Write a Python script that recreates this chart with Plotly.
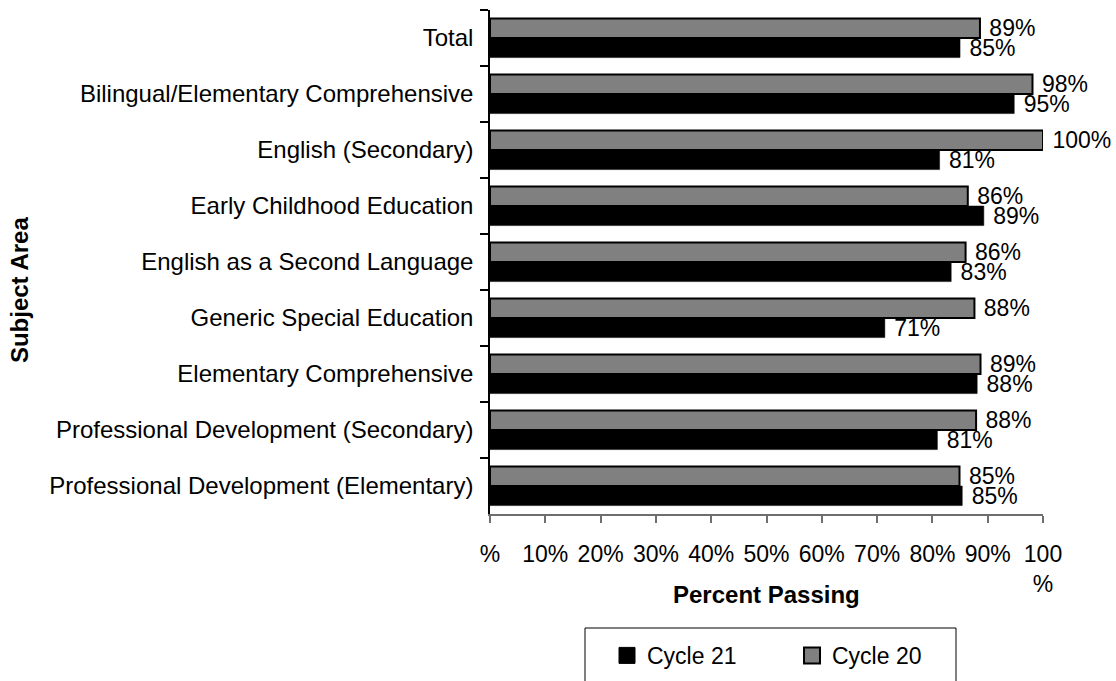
import plotly.graph_objects as go

categories = [
    "Total",
    "Bilingual/Elementary Comprehensive",
    "English (Secondary)",
    "Early Childhood Education",
    "English as a Second Language",
    "Generic Special Education",
    "Elementary Comprehensive",
    "Professional Development (Secondary)",
    "Professional Development (Elementary)",
]
cycle20 = [88.6, 98.1, 100.0, 86.4, 86.0, 87.6, 88.7, 87.9, 84.9]
cycle21 = [85.0, 94.8, 81.3, 89.3, 83.4, 71.4, 88.1, 80.9, 85.4]
labels20 = [89, 98, 100, 86, 86, 88, 89, 88, 85]
labels21 = [85, 95, 81, 89, 83, 71, 88, 81, 85]
xtick_vals = [0, 10, 20, 30, 40, 50, 60, 70, 80, 90, 100]
xtick_text = ["%", "10%", "20%", "30%", "40%", "50%", "60%", "70%", "80%", "90%", "100<br>%"]

FONT = "Liberation Sans, Arial, sans-serif"
FS = 23
GRAY = "#808080"
NB = "\u00a0"

fig = go.Figure()
fig.add_trace(go.Bar(
    name="Cycle 20", y=categories, x=cycle20, orientation="h",
    marker=dict(color=GRAY, line=dict(color="#000000", width=2)),
    text=[f"{NB}{v}%" for v in labels20], textposition="outside",
    textfont=dict(family=FONT, size=FS, color="#000000"),
    cliponaxis=False, constraintext="none", showlegend=False,
))
fig.add_trace(go.Bar(
    name="Cycle 21", y=categories, x=cycle21, orientation="h",
    marker=dict(color="#000000", line=dict(color="#000000", width=0.5)),
    text=[f"{NB}{v}%" for v in labels21], textposition="outside",
    textfont=dict(family=FONT, size=FS, color="#000000"),
    cliponaxis=False, constraintext="none", showlegend=False,
))
# legend entries (same styles as the bars, with larger square symbols)
fig.add_trace(go.Scatter(
    name="Cycle 21", x=[None], y=[None], mode="markers",
    marker=dict(symbol="square", size=16, color="#000000",
                line=dict(color="#000000", width=1)),
    showlegend=True, legendrank=1,
))
fig.add_trace(go.Scatter(
    name="Cycle 20", x=[None], y=[None], mode="markers",
    marker=dict(symbol="square", size=16, color=GRAY,
                line=dict(color="#000000", width=2)),
    showlegend=True, legendrank=2,
))

fig.update_layout(
    width=1116, height=681,
    margin=dict(l=490, r=73, t=10, b=167, autoexpand=False),
    paper_bgcolor="white", plot_bgcolor="white",
    font=dict(family=FONT, size=FS, color="#000000"),
    barmode="group", bargap=0.3, bargroupgap=0.0,
    showlegend=True,
    legend=dict(
        orientation="h",
        x=0.2116, xanchor="left", y=-0.238, yanchor="top",
        borderwidth=0, bgcolor="rgba(0,0,0,0)",
        font=dict(family=FONT, size=FS, color="#000000"),
        entrywidth=140, entrywidthmode="pixels",
    ),
    xaxis=dict(
        range=[0, 100], tickvals=xtick_vals, ticktext=xtick_text,
        showline=True, linecolor="#6e6e6e", linewidth=1.5,
        ticks="outside", ticklen=7, tickcolor="#6e6e6e", tickwidth=1.5,
        showgrid=False, zeroline=False, ticklabelstandoff=12,
        tickfont=dict(family=FONT, size=FS, color="#000000"),
    ),
    yaxis=dict(
        autorange="reversed", type="category",
        showline=True, linecolor="#000000", linewidth=1.5,
        ticks="outside", ticklen=8, tickcolor="#000000", tickwidth=1.5,
        tickson="boundaries", showgrid=False, zeroline=False,
        ticklabelstandoff=10,
        tickfont=dict(family=FONT, size=24, color="#000000"),
    ),
    shapes=[
        dict(type="rect", xref="paper", yref="paper",
             x0=0.1718, x1=0.8427, y0=-0.2262, y1=-0.36,
             line=dict(color="#000000", width=1), fillcolor="rgba(0,0,0,0)",
             layer="below"),
    ],
    annotations=[
        dict(text="<b>Percent Passing</b>", xref="paper", yref="paper",
             x=0.5, y=-0.16, xanchor="center", yanchor="middle", showarrow=False,
             font=dict(family=FONT, size=24, color="#000000")),
        dict(text="<b>Subject Area</b>", xref="paper", yref="paper",
             x=-0.852, y=0.444, xanchor="center", yanchor="middle", showarrow=False,
             textangle=-90, font=dict(family=FONT, size=24, color="#000000")),
    ],
)

fig.write_html("out.html")
